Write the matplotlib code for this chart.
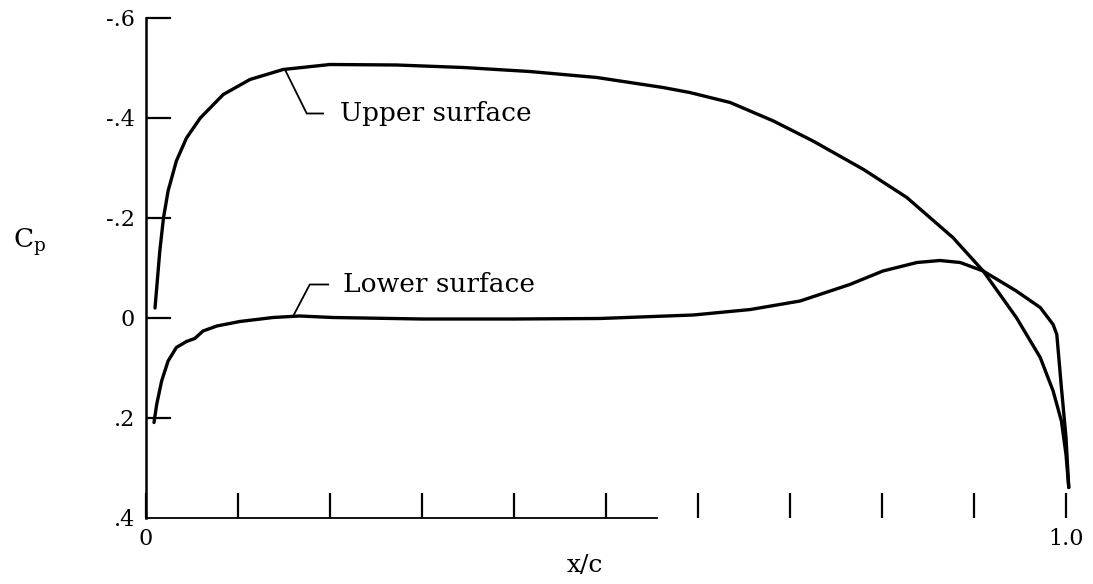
import matplotlib
matplotlib.use('Agg')

import matplotlib.pyplot as plt

# upper surface
x_upper = [0.0098, 0.015, 0.019, 0.024, 0.033, 0.044, 0.059, 0.084, 0.113, 0.149, 0.2,
           0.2725, 0.345, 0.417, 0.49, 0.562, 0.591, 0.635, 0.682, 0.725, 0.78, 0.827,
           0.877, 0.91, 0.946, 0.972, 0.986, 0.995, 1.0, 1.003]
cp_upper = [-0.02, -0.134, -0.2, -0.254, -0.314, -0.36, -0.40, -0.447, -0.477, -0.497, -0.507,
            -0.506, -0.501, -0.493, -0.481, -0.461, -0.451, -0.431, -0.394, -0.354, -0.297, -0.241,
            -0.161, -0.094, -0.001, 0.079, 0.146, 0.206, 0.273, 0.339]

# lower surface
x_lower = [0.0087, 0.0116, 0.017, 0.024, 0.033, 0.044, 0.053, 0.062, 0.077, 0.102, 0.138,
           0.167, 0.203, 0.3, 0.4, 0.493, 0.595, 0.657, 0.711, 0.765, 0.801, 0.838, 0.863,
           0.885, 0.91, 0.946, 0.972, 0.986, 0.99, 0.995, 1.0, 1.003]
cp_lower = [0.209, 0.173, 0.126, 0.086, 0.059, 0.047, 0.041, 0.026, 0.016, 0.007, -0.001,
            -0.004, -0.001, 0.002, 0.002, 0.001, -0.006, -0.017, -0.034, -0.067, -0.094, -0.111, -0.115,
            -0.111, -0.094, -0.054, -0.021, 0.013, 0.033, 0.139, 0.239, 0.339]

xticks = [0.0, 0.1, 0.2, 0.3, 0.4, 0.5, 0.6, 0.7, 0.8, 0.9, 1.0]
xticklabels = ['0', '', '', '', '', '', '', '', '', '', '1.0']
yticks = [-0.6, -0.4, -0.2, 0.0, 0.2, 0.4]
yticklabels = ['-.6', '-.4', '-.2', '0', '.2', '.4']

plt.rcParams['font.family'] = ['DejaVu Serif']
plt.rcParams['mathtext.fontset'] = 'dejavuserif'

fig = plt.figure(figsize=(10.93, 5.84), dpi=100)
ax = fig.add_axes([146 / 1093, 66 / 584, 920 / 1093, 500 / 584])

for xs, ys in [(x_upper, cp_upper), (x_lower, cp_lower)]:
    ax.plot(xs, ys, color='black', lw=2.4, solid_capstyle='round',
            solid_joinstyle='round', clip_on=False)

ax.set_xlim(0, 1.0)
ax.set_ylim(0.4, -0.6)

for s in ['top', 'right']:
    ax.spines[s].set_visible(False)
ax.spines['left'].set_linewidth(1.8)
ax.spines['bottom'].set_linewidth(1.3)
ax.spines['bottom'].set_bounds(0, 0.555)  # the scan loses the axis line past here

ax.set_xticks(xticks)
ax.set_xticklabels(xticklabels)
ax.set_yticks(yticks)
ax.set_yticklabels(yticklabels)
ax.tick_params(axis='x', direction='in', length=18, width=1.6, pad=7, labelsize=16)
ax.tick_params(axis='y', direction='in', length=18, width=1.6, pad=8, labelsize=16)
ax.yaxis.get_major_ticks()[-1].tick1line.set_visible(False)

# leaders to the curve names
ax.plot([0.151, 0.1747, 0.1925], [-0.497, -0.409, -0.409], color='black', lw=1.3)
ax.plot([0.160, 0.178, 0.198], [-0.004, -0.067, -0.067], color='black', lw=1.3)
ax.text(0.211, -0.409, 'Upper surface', fontsize=19, va='center', ha='left')
ax.text(0.214, -0.067, 'Lower surface', fontsize=19, va='center', ha='left')

fig.text(30 / 1093, 1 - 242 / 584, r'C$_\mathrm{p}$', fontsize=19, ha='center', va='center')
fig.text(585 / 1093, 1 - 566 / 584, 'x/c', fontsize=18, ha='center', va='center')

fig.savefig('out.png', dpi=100)
